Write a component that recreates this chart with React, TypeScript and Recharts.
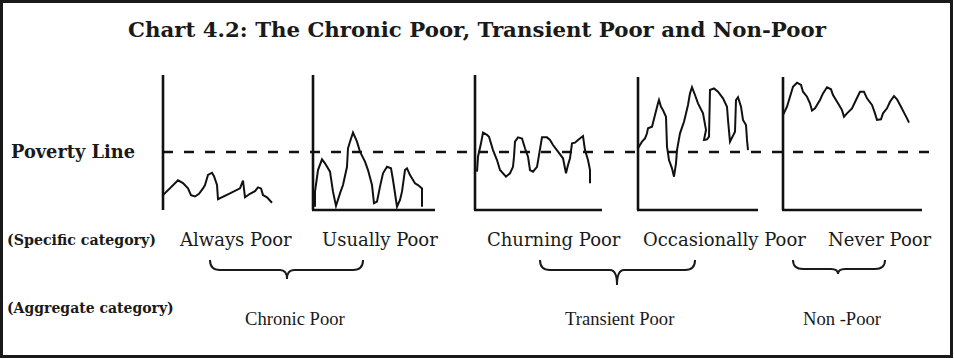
import { ComposedChart, Line, XAxis, YAxis, ReferenceLine } from "recharts"

// income paths per household type: [period, income index]
const alwaysPoor: [number, number][] = [
  [0, 11], [15, 22], [20, 20], [25, 16], [28, 11], [32, 10], [36, 12], [40, 16], [42, 18.5],
  [45, 26], [49, 27.6], [51, 25], [54, 18.5], [55, 8], [67, 12.3], [77, 16], [80, 21.7],
  [82, 9.4], [87, 12], [92, 14], [95, 16.8], [98, 16], [100, 11], [104, 9.4], [109, 5.4],
]
const usuallyPoor: [number, number][] = [
  [2, 2.4], [2, 13.6], [5, 29.6], [9, 37.5], [12, 34.6], [17, 28.4], [20, 13.6], [23, 3],
  [27, 12.3], [30, 18.5], [34, 32], [35, 45.7], [37, 50.6], [40, 57.3], [44, 50.6], [47, 43.2],
  [52, 35.8], [55, 29.6], [59, 18.5], [61, 5], [64, 6.2], [67, 17.3], [70, 27.2], [74, 32],
  [78, 30.9], [80, 22.2], [84, 2.4], [87, 7.4], [89, 13.6], [92, 29.6], [94, 30.9], [97, 25.9],
  [102, 19.8], [105, 18.5], [109, 16], [109, 2.4],
]
const churningPoor: [number, number][] = [
  [2, 28.4], [3, 39.5], [6, 49.4], [8, 57.3], [12, 55.6], [14, 54.3], [18, 44.4], [22, 37],
  [25, 29.6], [31, 24.7], [35, 27.2], [38, 32], [39, 39.5], [40, 50.6], [43, 53.8], [47, 53],
  [50, 45.7], [53, 39.5], [55, 29.6], [58, 28.4], [62, 32], [64, 40.7], [67, 53.8], [72, 53.8],
  [75, 51.9], [78, 48.1], [83, 43.2], [88, 38.3], [91, 27.2], [93, 33.3], [95, 38.3], [97, 49.4],
  [100, 49.9], [103, 51.9], [108, 54.8], [110, 44.4], [113, 37], [115, 29.6], [115, 19.8],
]
const occasionallyPoor: [number, number][] = [
  [0, 45.7], [4, 50.6], [7, 53], [9, 56.8], [10, 60.5], [14, 61.7], [17, 70.4], [20, 79],
  [21, 81.5], [23, 76.5], [25, 74], [28, 69.1], [29, 46.9], [31, 37], [34, 30.9], [36, 24.7],
  [38, 34.6], [39, 44.4], [42, 56.8], [46, 65.4], [50, 77.8], [52, 86.4], [54, 90.9], [57, 85.2],
  [60, 79], [65, 71.6], [68, 59.3], [66, 51.9], [69, 52.3], [71, 54.3], [72, 88.9], [76, 90.1],
  [80, 87.6], [85, 82.7], [89, 76.5], [90, 66.7], [92, 50.6], [97, 58], [98, 81.5], [100, 83.5],
  [103, 76.5], [105, 66.7], [108, 63], [109, 51.9], [110, 44.4],
]
const neverPoor: [number, number][] = [
  [0, 70.4], [4, 76.5], [7, 83.9], [10, 91.3], [14, 94.3], [18, 92.6], [20, 87.6], [24, 83.9],
  [27, 79], [29, 73.6], [32, 75.3], [37, 81.5], [40, 86.4], [44, 90.9], [48, 89.4], [50, 85.2],
  [55, 79], [59, 74], [61, 69.1], [64, 71.6], [69, 75.3], [73, 81.5], [77, 87.6], [81, 87.6],
  [84, 82.7], [89, 77.8], [92, 71.6], [94, 66.7], [98, 67.2], [100, 71.6], [104, 75.3], [107, 80.2],
  [111, 84.4], [114, 82], [118, 76.5], [121, 72.1], [124, 67.9], [126, 64.7],
]

const series = [alwaysPoor, usuallyPoor, churningPoor, occasionallyPoor, neverPoor]
const panelStart = [0, 150, 312, 475, 620]
const panelLength = [120, 122, 127, 120, 139]
const panelTop = [100, 100, 100, 98.5, 98.5]
const POVERTY_LINE = 43

const specificLabels = ["Always Poor", "Usually Poor", "Churning Poor", "Occasionally Poor", "Never Poor"]
const aggregateLabels = ["Chronic Poor", "Transient Poor", "Non -Poor"]

const W = 954
const H = 359

function Txt({ x, y, center, style, children }: any) {
  return (
    <div
      style={{
        position: "absolute",
        left: x,
        top: y,
        transform: center ? "translate(-50%, -50%)" : "translate(0, -50%)",
        whiteSpace: "nowrap",
        lineHeight: 1,
        color: "#1a1a1a",
        ...style,
      }}
    >
      {children}
    </div>
  )
}

function bracePath(x1: number, x2: number, cx: number, top: number, mid: number, tip: number) {
  return `M${x1},${top} Q${x1},${mid} ${x1 + 10},${mid} L${cx - 7},${mid} Q${cx},${mid} ${cx},${tip} Q${cx},${mid} ${cx + 7},${mid} L${x2 - 10},${mid} Q${x2},${mid} ${x2},${top}`
}

export default function App() {
  const bold = { fontFamily: "'DejaVu Serif', serif", fontWeight: 700 }
  const specificX = [180, 322, 487, 643, 828]
  const aggregateX = [245, 565, 803]

  return (
    <div style={{ position: "fixed", left: 0, top: 0, width: W, height: H, background: "#fff" }}>
      <div
        style={{
          position: "absolute",
          left: 0,
          top: 0,
          width: 953,
          height: 358,
          border: "3px solid #1a1a1a",
          boxSizing: "border-box",
        }}
      />
      <ComposedChart width={W} height={H} margin={{ top: 75, right: 14, bottom: 149, left: 163 }} style={{ position: "absolute", left: 0, top: 0 }}>
        <XAxis type="number" dataKey="t" domain={[0, 777]} hide allowDuplicatedCategory={false} />
        <YAxis type="number" domain={[0, 100]} hide />
        <ReferenceLine y={POVERTY_LINE} stroke="#111" strokeWidth={2.6} strokeDasharray="10 11" />
        {panelStart.map((s, i) => (
          <ReferenceLine
            key={"v" + i}
            segment={[{ x: s, y: 0 }, { x: s, y: panelTop[i] }]}
            stroke="#111"
            strokeWidth={2.6}
          />
        ))}
        {panelStart.map((s, i) => (
          <ReferenceLine
            key={"h" + i}
            segment={[{ x: s - 1, y: 0 }, { x: s + panelLength[i], y: 0 }]}
            stroke="#111"
            strokeWidth={2.6}
          />
        ))}
        {series.map((pts, i) => (
          <Line
            key={"l" + i}
            data={pts.map(([t, v]) => ({ t: panelStart[i] + t, v }))}
            dataKey="v"
            type="linear"
            stroke="#111"
            strokeWidth={2}
            dot={false}
            isAnimationActive={false}
          />
        ))}
      </ComposedChart>
      <svg width={W} height={H} style={{ position: "absolute", left: 0, top: 0 }}>
        <g fill="none" stroke="#1a1a1a" strokeWidth={2}>
          <path d={bracePath(210, 363, 287, 260, 270, 279)} />
          <path d={bracePath(540, 695, 617, 260, 270, 285)} />
          <path d={bracePath(793, 885, 838, 260, 269, 274)} />
        </g>
      </svg>
      <Txt x={477} y={30} center style={{ ...bold, fontSize: 21.3 }}>
        Chart 4.2: The Chronic Poor, Transient Poor and Non-Poor
      </Txt>
      <Txt x={11} y={152} style={{ ...bold, fontSize: 17.8 }}>Poverty Line</Txt>
      <Txt x={7} y={240} style={{ ...bold, fontSize: 14.2 }}>(Specific category)</Txt>
      <Txt x={7} y={308} style={{ ...bold, fontSize: 14 }}>(Aggregate category)</Txt>
      {specificLabels.map((s, i) => (
        <Txt key={s} x={specificX[i]} y={240} style={{ fontFamily: "'DejaVu Serif', serif", fontSize: 18 }}>
          {s}
        </Txt>
      ))}
      {aggregateLabels.map((s, i) => (
        <Txt key={s} x={aggregateX[i]} y={319} style={{ fontFamily: "'Liberation Serif', serif", fontSize: 18.6 }}>
          {s}
        </Txt>
      ))}
    </div>
  )
}
